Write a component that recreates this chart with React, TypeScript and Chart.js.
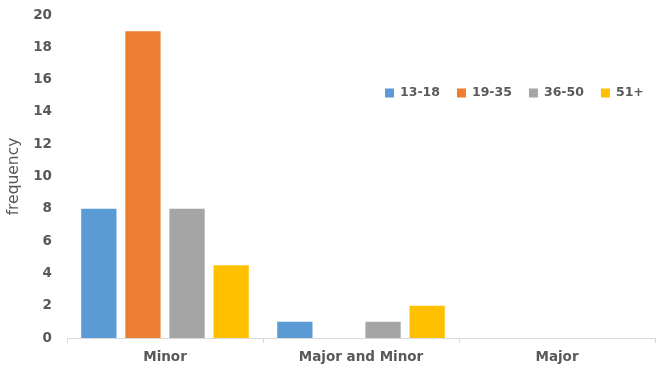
import React, { useEffect, useRef } from "react";
import { Chart, registerables } from "chart.js";

Chart.register(...registerables);

const categories = ["Minor", "Major and Minor", "Major"];
const seriesLabels = ["13-18", "19-35", "36-50", "51+"];
const values1318 = [8, 1, 0];
const values1935 = [19, 0, 0];
const values3650 = [8, 1, 0];
const values51 = [4.5, 2, 0];
const seriesColors = ["#5B9BD5", "#ED7D31", "#A5A5A5", "#FFC000"];
const yMin = 0;
const yMax = 20;
const yStep = 2;

const TEXT = "#595959";
const FONT = '"DejaVu Sans", sans-serif';

const insideLegend = {
  id: "insideLegend",
  afterDraw(chart: any) {
    const ctx = chart.ctx;
    ctx.save();
    ctx.font = `bold 12.5px ${FONT}`;
    ctx.textBaseline = "middle";
    ctx.textAlign = "left";
    let x = 385;
    const y = 93;
    chart.data.datasets.forEach((ds: any) => {
      ctx.fillStyle = ds.backgroundColor;
      ctx.fillRect(x, y - 4.5, 9, 9);
      x += 9 + 6;
      ctx.fillStyle = TEXT;
      ctx.fillText(ds.label, x, y);
      x += ctx.measureText(ds.label).width + 17;
    });
    ctx.restore();
  },
};

export default function App() {
  const ref = useRef<HTMLCanvasElement | null>(null);

  useEffect(() => {
    if (!ref.current) return;
    const seriesValues = [values1318, values1935, values3650, values51];
    const chart = new Chart(ref.current, {
      type: "bar",
      data: {
        labels: categories,
        datasets: seriesLabels.map((label, i) => ({
          label,
          data: seriesValues[i],
          backgroundColor: seriesColors[i],
          borderWidth: 0,
          categoryPercentage: 0.9,
          barPercentage: 0.8,
        })),
      },
      options: {
        responsive: false,
        animation: false,
        layout: { padding: { top: 15, right: 15, left: 0, bottom: 0 } },
        plugins: {
          legend: { display: false },
          tooltip: { enabled: false },
        },
        scales: {
          x: {
            offset: true,
            grid: {
              display: true,
              drawOnChartArea: false,
              drawTicks: true,
              tickLength: 5,
              color: "#d9d9d9",
              offset: true,
            },
            border: { display: true, color: "#d9d9d9", width: 1 },
            ticks: {
              color: TEXT,
              padding: 6,
              font: { family: FONT, size: 13.5, weight: "bold" },
              maxRotation: 0,
              autoSkip: false,
            },
            afterFit: (s: any) => {
              s.height = 30;
            },
          },
          y: {
            min: yMin,
            max: yMax,
            grid: { display: false, drawTicks: false },
            border: { display: false },
            ticks: {
              stepSize: yStep,
              color: TEXT,
              padding: 15,
              font: { family: FONT, size: 13.5, weight: "bold" },
            },
            title: {
              display: true,
              text: "frequency",
              color: TEXT,
              font: { family: FONT, size: 15.5, weight: "normal" },
              padding: { top: 5, bottom: 0 },
            },
            afterFit: (s: any) => {
              s.width = 67;
              s.paddingTop = 0;
              s.paddingBottom = 0;
            },
          },
        },
      },
      plugins: [insideLegend],
    });
    return () => chart.destroy();
  }, []);

  return (
    <div style={{ position: "fixed", left: 0, top: 0, width: 670, height: 368, background: "#fff" }}>
      <canvas ref={ref} width={670} height={368} style={{ display: "block" }} />
    </div>
  );
}
